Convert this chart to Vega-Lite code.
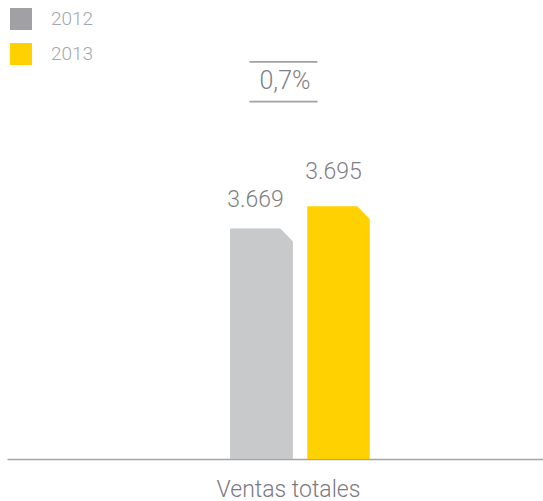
{
  "$schema": "https://vega.github.io/schema/vega-lite/v6.json",
  "width": 536,
  "height": 459,
  "autosize": {"type": "none"},
  "padding": {"left": 7, "top": 0, "right": 0, "bottom": 42},
  "background": "white",
  "config": {
    "view": {"stroke": null},
    "font": "Roboto",
    "text": {"font": "Roboto", "fontWeight": 300}
  },
  "data": {
    "values": [
      {"cat": "Ventas totales", "year": "2012", "value": 3669, "label": "3.669"},
      {"cat": "Ventas totales", "year": "2013", "value": 3695, "label": "3.695"}
    ]
  },
  "encoding": {
    "x": {
      "field": "cat",
      "type": "nominal",
      "scale": {"paddingInner": 0.1937, "paddingOuter": 1, "align": 0.5654},
      "axis": {
        "title": null,
        "labelAngle": 0,
        "ticks": false,
        "domainColor": "#a3a3a8",
        "domainWidth": 1.5,
        "labelFont": "Roboto",
        "labelFontWeight": 300,
        "labelFontSize": 23,
        "labelColor": "#7a7a80",
        "labelPadding": 19,
        "labelBaseline": "top",
        "labelOffset": -11.5,
        "labelOverlap": false,
        "labelLimit": 0
      }
    },
    "xOffset": {
      "field": "year",
      "type": "nominal",
      "scale": {"paddingInner": 0.195, "paddingOuter": 0.0974}
    }
  },
  "layer": [
    {
      "mark": {"type": "bar"},
      "encoding": {
        "y": {
          "field": "value",
          "type": "quantitative",
          "scale": {"domain": [3400, 3936], "zero": false, "nice": false},
          "axis": null
        },
        "y2": {"datum": 3400},
        "color": {
          "field": "year",
          "type": "nominal",
          "scale": {"domain": ["2012", "2013"], "range": ["#a0a0a5", "#ffd100"]},
          "legend": {
            "title": null,
            "orient": "none",
            "legendX": 3,
            "legendY": 8,
            "symbolType": "square",
            "symbolSize": 484,
            "symbolStrokeWidth": 0,
            "symbolOpacity": 1,
            "labelFont": "Roboto",
            "labelFontWeight": 300,
            "labelFontSize": 19,
            "labelColor": "#a5a5aa",
            "labelOffset": 19,
            "rowPadding": 13,
            "padding": 0
          }
        }
      }
    },
    {
      "mark": {"type": "bar"},
      "encoding": {
        "y": {"field": "value", "type": "quantitative"},
        "y2": {"datum": 3400},
        "fill": {
          "condition": {"test": "datum.year === '2012'", "value": "#c8c9cb"},
          "value": "#ffd100"
        }
      }
    },
    {
      "mark": {
        "type": "point",
        "shape": "M0.58,-0.04 L1.06,-0.04 L1.06,0.46 Z",
        "size": 3844,
        "filled": true,
        "color": "white",
        "opacity": 1,
        "strokeWidth": 0
      },
      "encoding": {
        "y": {"field": "value", "type": "quantitative"}
      }
    },
    {
      "transform": [{"filter": "datum.year === '2012'"}],
      "mark": {"type": "text", "fontSize": 23, "color": "#7f7f85", "baseline": "alphabetic", "dy": -22, "dx": -6},
      "encoding": {
        "y": {"field": "value", "type": "quantitative"},
        "text": {"field": "label"}
      }
    },
    {
      "transform": [{"filter": "datum.year === '2013'"}],
      "mark": {"type": "text", "fontSize": 23, "color": "#7f7f85", "baseline": "alphabetic", "dy": -27.5, "dx": -5},
      "encoding": {
        "y": {"field": "value", "type": "quantitative"},
        "text": {"field": "label"}
      }
    },
    {
      "data": {"values": [{"cat": "Ventas totales", "chg": "0,7%"}]},
      "mark": {"type": "text", "fontSize": 25, "color": "#7f7f85", "baseline": "alphabetic", "xOffset": -15},
      "encoding": {
        "xOffset": null,
        "y": {"datum": 3832},
        "text": {"field": "chg"}
      }
    },
    {
      "data": {"values": [{"cat": "Ventas totales", "pos": 3863.8}, {"cat": "Ventas totales", "pos": 3817.4}]},
      "mark": {"type": "tick", "orient": "horizontal", "size": 68, "thickness": 1.8, "color": "#a0a0a5", "xOffset": -16.5, "opacity": 1},
      "encoding": {
        "xOffset": null,
        "y": {"field": "pos", "type": "quantitative"}
      }
    }
  ]
}
